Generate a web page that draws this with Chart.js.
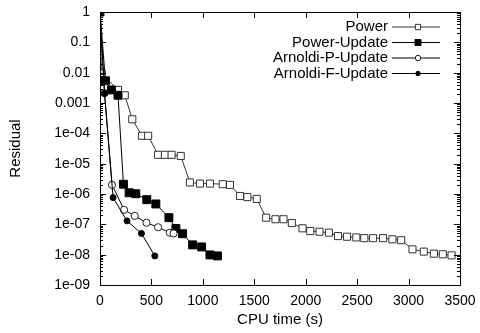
<!DOCTYPE html>
<html>
<head>
<meta charset="utf-8">
<script src="https://cdn.jsdelivr.net/npm/chart.js@4/dist/chart.umd.min.js"></script>
<style>
    html, body { margin: 0; padding: 0; background: #fff; }
</style>
</head>
<body>
<canvas id="grafico" width="480" height="333"></canvas>
<script>
// -------------------- Dados --------------------
const powerTime = [0, 14, 175, 241, 314, 408, 468, 565, 631, 696, 785, 874, 972, 1069, 1193, 1264, 1362, 1433, 1524, 1615,
    1706, 1784, 1865, 1969, 2044, 2134, 2226, 2314, 2402, 2492, 2570, 2655, 2752, 2843, 2928, 3038, 3148, 3246, 3333, 3418];
const powerRes = [1, 0.0095, 0.0027, 0.0018, 2.9e-4, 8.3e-5, 8.3e-5, 1.96e-5, 1.96e-5, 1.96e-5, 1.8e-5, 2.4e-6, 2.2e-6, 2.2e-6, 2.1e-6, 2.0e-6, 8.6e-7, 7.9e-7, 6.9e-7, 1.65e-7,
    1.47e-7, 1.47e-7, 1.1e-7, 7.4e-8, 6.0e-8, 5.7e-8, 5.3e-8, 4.1e-8, 3.9e-8, 3.7e-8, 3.5e-8, 3.5e-8, 3.5e-8, 3.2e-8, 3.0e-8, 1.5e-8, 1.26e-8, 1.08e-8, 1.03e-8, 9.5e-9];

const powerUpdTime = [0, 53, 111, 175, 228, 283, 348, 455, 543, 670, 738, 803, 901, 988, 1069, 1142];
const powerUpdRes = [1, 0.0054, 0.0027, 0.0018, 2.1e-6, 1.1e-6, 1.02e-6, 6.5e-7, 4.7e-7, 1.66e-7, 7.3e-8, 4.9e-8, 2.1e-8, 1.8e-8, 9.8e-9, 9.1e-9];

const arnoldiPTime = [0, 44, 117, 234, 338, 452, 565, 679, 715];
const arnoldiPRes = [1, 0.0021, 2.0e-6, 3.0e-7, 1.9e-7, 1.13e-7, 8.0e-8, 5.3e-8, 5.0e-8];

const arnoldiFTime = [0, 44, 127, 263, 403, 533];
const arnoldiFRes = [1, 0.0021, 7.6e-7, 1.3e-7, 5.0e-8, 9.1e-9];

const seriesLabels = ["Power", "Power-Update", "Arnoldi-P-Update", "Arnoldi-F-Update"];
const xTickValues = [0, 500, 1000, 1500, 2000, 2500, 3000, 3500];
const yTickValues = [1e-9, 1e-8, 1e-7, 1e-6, 1e-5, 1e-4, 1e-3, 1e-2, 1e-1, 1];
const yTickLabels = ["1e-09", "1e-08", "1e-07", "1e-06", "1e-05", "1e-04", "0.001", "0.01", "0.1", "1"];

const FONTE = "'Liberation Sans', Arial, sans-serif";

function pontos(xs, ys) {
    return xs.map((x, i) => ({ x: x, y: ys[i] }));
}

// -------------------- Moldura, ticks internos e legenda (estilo gnuplot) --------------------
const moldura = {
    id: "moldura",
    afterDraw(chart) {
        const { ctx, chartArea: a, scales: { x, y } } = chart;
        ctx.save();
        ctx.strokeStyle = "#000";
        ctx.lineWidth = 1;

        ctx.beginPath();
        // eixo y: ticks maiores e menores (log)
        yTickValues.forEach(d => {
            for (let m = 1; m <= 9; m++) {
                const v = m * d;
                if (v > 1) break;
                const py = Math.round(y.getPixelForValue(v)) + 0.5;
                const len = m === 1 ? 6 : 3;
                ctx.moveTo(a.left, py); ctx.lineTo(a.left + len, py);
                ctx.moveTo(a.right, py); ctx.lineTo(a.right - len, py);
            }
        });
        // eixo x
        xTickValues.forEach(v => {
            const px = Math.round(x.getPixelForValue(v)) + 0.5;
            ctx.moveTo(px, a.bottom); ctx.lineTo(px, a.bottom - 6);
            ctx.moveTo(px, a.top); ctx.lineTo(px, a.top + 6);
        });
        ctx.stroke();
        ctx.strokeRect(Math.round(a.left) + 0.5, Math.round(a.top) + 0.5, Math.round(a.right - a.left), Math.round(a.bottom - a.top));

        // legenda
        ctx.font = "15px " + FONTE;
        ctx.textAlign = "right";
        ctx.textBaseline = "middle";
        chart.data.datasets.forEach((ds, i) => {
            const ly = a.top + 15 + i * 15.5;
            ctx.fillStyle = "#000";
            ctx.fillText(ds.label, a.right - 72, ly);
            ctx.strokeStyle = ds.borderColor;
            ctx.beginPath();
            ctx.moveTo(a.right - 68, ly); ctx.lineTo(a.right - 20, ly);
            ctx.stroke();
            ctx.fillStyle = ds.pointBackgroundColor;
            ctx.strokeStyle = ds.pointBorderColor;
            ctx.lineWidth = 1;
            Chart.helpers.drawPoint(ctx, { pointStyle: ds.pointStyle, radius: ds.pointRadius * 0.75, borderWidth: 1, rotation: 0 }, a.right - 42, ly);
        });
        ctx.restore();
    }
};

// -------------------- Gráfico --------------------
const ctx = document.getElementById("grafico").getContext("2d");
new Chart(ctx, {
    type: "scatter",
    data: {
        datasets: [
            {
                label: seriesLabels[0], data: pontos(powerTime, powerRes), order: 4,
                showLine: true, borderColor: "#333", borderWidth: 1,
                pointStyle: "rect", pointRadius: 5, pointBackgroundColor: "#fff", pointBorderColor: "#333", pointBorderWidth: 1
            },
            {
                label: seriesLabels[1], data: pontos(powerUpdTime, powerUpdRes), order: 3,
                showLine: true, borderColor: "#000", borderWidth: 1,
                pointStyle: "rect", pointRadius: 5.6, pointBackgroundColor: "#000", pointBorderColor: "#000", pointBorderWidth: 1
            },
            {
                label: seriesLabels[2], data: pontos(arnoldiPTime, arnoldiPRes), order: 2,
                showLine: true, borderColor: "#000", borderWidth: 1,
                pointStyle: "circle", pointRadius: 3.6, pointBackgroundColor: "#fff", pointBorderColor: "#222", pointBorderWidth: 1
            },
            {
                label: seriesLabels[3], data: pontos(arnoldiFTime, arnoldiFRes), order: 1,
                showLine: true, borderColor: "#000", borderWidth: 1,
                pointStyle: "circle", pointRadius: 3, pointBackgroundColor: "#000", pointBorderColor: "#000", pointBorderWidth: 1
            }
        ]
    },
    options: {
        responsive: false,
        animation: false,
        layout: { padding: { top: 12, right: 20, left: 0, bottom: 0 } },
        plugins: { legend: { display: false }, tooltip: { enabled: false } },
        scales: {
            x: {
                type: "linear", min: 0, max: 3500,
                grid: { display: false, drawTicks: false },
                border: { display: false },
                ticks: {
                    stepSize: 500, autoSkip: false, maxRotation: 0, padding: 8,
                    color: "#000", font: { family: FONTE, size: 14 },
                    callback: v => String(v)
                },
                title: { display: true, text: "CPU time (s)", color: "#000", font: { family: FONTE, size: 15 }, padding: { top: 0, bottom: 4 } },
                afterFit: s => { s.height = 48; s.paddingLeft = 0; s.paddingRight = 0; }
            },
            y: {
                type: "logarithmic", min: 1e-9, max: 1,
                grid: { display: false, drawTicks: false },
                border: { display: false },
                afterBuildTicks: s => { s.ticks = yTickValues.map(v => ({ value: v })); },
                ticks: {
                    autoSkip: false, padding: 10,
                    color: "#000", font: { family: FONTE, size: 14 },
                    callback: (v, i) => yTickLabels[i]
                },
                title: { display: true, text: "Residual", color: "#000", font: { family: FONTE, size: 15 }, padding: { top: 7, bottom: 0 } },
                afterFit: s => { s.width = 100; s.paddingTop = 0; s.paddingBottom = 0; }
            }
        }
    },
    plugins: [moldura]
});
</script>
</body>
</html>
